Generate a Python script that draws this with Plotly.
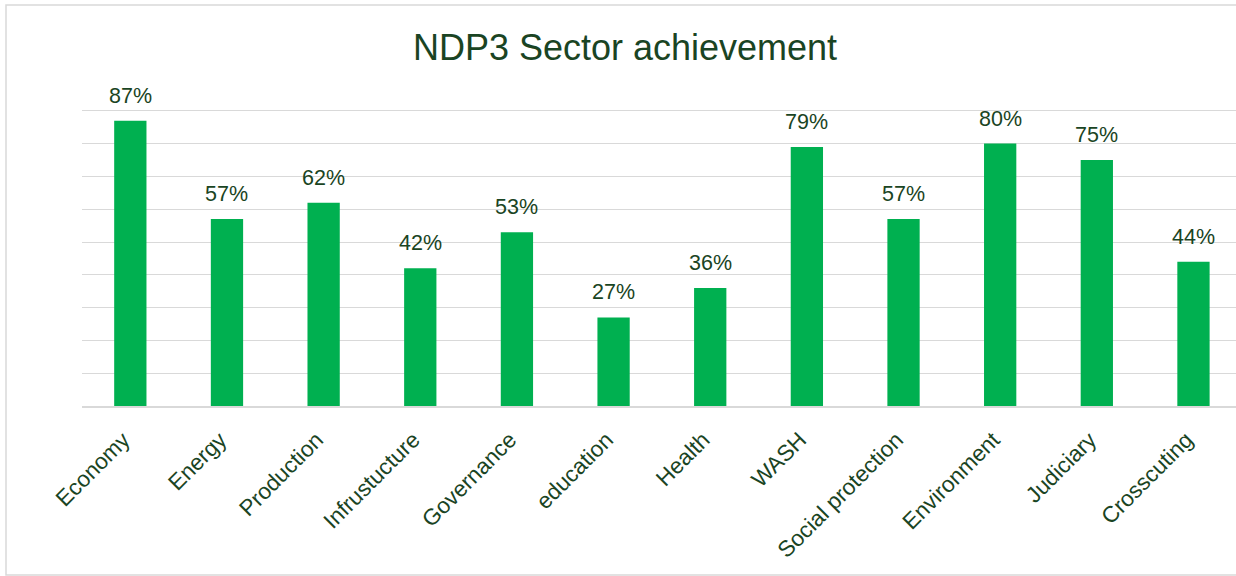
import plotly.graph_objects as go

# Sector achievement shares for NDP3
sectors = ["Economy", "Energy", "Production", "Infrustucture", "Governance", "education",
           "Health", "WASH", "Social protection", "Environment", "Judiciary", "Crosscuting"]
achievement = [0.87, 0.57, 0.62, 0.42, 0.53, 0.27, 0.36, 0.79, 0.57, 0.80, 0.75, 0.44]

W, H = 1236, 576
ML, MR, MT, MB = 82, 0, 78, 170
plot_w = W - ML - MR
plot_h = H - MT - MB
cat_px = 96.65  # pixel width of one category slot

BAR = "#00B050"
TXT = "#1A4423"
GRID = "#D9D9D9"
FONT = "Liberation Sans, Arial, sans-serif"

fig = go.Figure(go.Bar(
    x=sectors,
    y=achievement,
    marker=dict(color=BAR, line=dict(width=0)),
    hoverinfo="skip",
))

# value labels above each bar
for s, v in zip(sectors, achievement):
    fig.add_annotation(
        x=s, y=v, xref="x", yref="y",
        text=f"{round(v * 100)}%",
        showarrow=False, yanchor="bottom", yshift=11,
        font=dict(family=FONT, size=21.5, color=TXT),
    )

# chart frame
fig.add_shape(
    type="rect", xref="paper", yref="paper",
    x0=(6 - ML) / plot_w, x1=1.02,
    y0=-(H - 1 - (MT + plot_h)) / plot_h, y1=(plot_h + MT - 5) / plot_h,
    line=dict(color=GRID, width=1.5), fillcolor="rgba(0,0,0,0)", layer="below",
)

fig.update_layout(
    width=W, height=H,
    margin=dict(l=ML, r=MR, t=MT, b=MB, pad=0),
    paper_bgcolor="white", plot_bgcolor="white",
    bargap=0.666,
    showlegend=False,
    font=dict(family=FONT, color=TXT),
    title=dict(
        text="NDP3 Sector achievement",
        x=625 / W, xanchor="center",
        yref="container", y=1 - 35 / H, yanchor="top",
        font=dict(family=FONT, size=36, color=TXT),
    ),
    xaxis=dict(
        range=[-0.5, -0.5 + plot_w / cat_px],
        tickangle=-45,
        tickfont=dict(family=FONT, size=22.5, color=TXT),
        showgrid=False, ticks="", ticklabelstandoff=10, ticklabelshift=-7,
        showline=True, linecolor=GRID, linewidth=1.5,
        fixedrange=True,
    ),
    yaxis=dict(
        range=[0, 1.0], dtick=0.1,
        showgrid=True, gridcolor=GRID, gridwidth=1.3,
        showticklabels=False, ticks="", zeroline=False,
        fixedrange=True,
    ),
)

fig.write_html("out.html", config={"displayModeBar": False})
